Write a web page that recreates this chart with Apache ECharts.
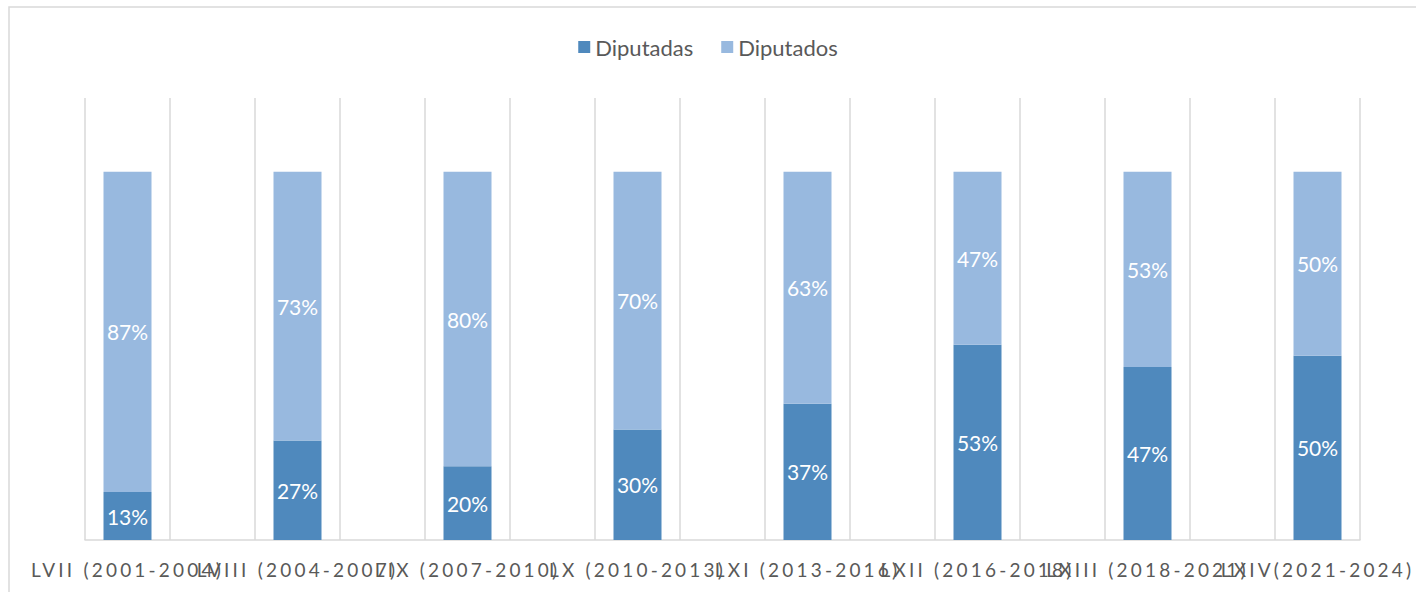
<!DOCTYPE html>
<html>
<head>
<meta charset="utf-8">
<style>
  html, body { margin: 0; padding: 0; background: #fff; }
  #chart { width: 1416px; height: 592px; }
  /* Excel-style expanded spacing on the category labels */
  #chart text[fill="#595958"] { letter-spacing: 3.2px; }
</style>
<script src="https://cdn.jsdelivr.net/npm/echarts@6/dist/echarts.min.js"></script>
</head>
<body>
<div id="chart"></div>
<script>
const terms = [
  'LVII (2001-2004)', 'LVIII (2004-2007)', 'LIX (2007-2010)', 'LX (2010-2013)',
  'LXI (2013-2016)', 'LXII (2016-2018)', 'LXIII (2018-2021)', 'LXIV(2021-2024)'
]
const diputadas = [13, 27, 20, 30, 37, 53, 47, 50]
const diputados = [87, 73, 80, 70, 63, 47, 53, 50]

// Excel sheet leaves an empty column between every legislature
function spread(arr, blank) {
  const out = []
  arr.forEach((v, i) => {
    out.push(v)
    if (i < arr.length - 1) out.push(blank)
  })
  return out
}

const categories = spread(terms, '')
const chart = echarts.init(document.getElementById('chart'), null, { renderer: 'svg' })

const labelFont = 'Lato, "Open Sans", sans-serif'

chart.setOption({
  animation: false,
  graphic: [{
    type: 'rect',
    silent: true,
    shape: { x: 9, y: 7, width: 1420, height: 600 },
    style: { fill: 'none', stroke: '#d9d9d9', lineWidth: 1.5 }
  }],
  legend: {
    top: 31,
    left: 'center',
    itemWidth: 12,
    itemHeight: 12,
    itemGap: 28,
    icon: 'rect',
    textStyle: { color: '#595959', fontSize: 22, fontFamily: labelFont },
    data: ['Diputadas', 'Diputados']
  },
  grid: { left: 85, right: 56, top: 98, bottom: 52, containLabel: false },
  xAxis: {
    type: 'category',
    data: categories,
    axisLine: { lineStyle: { color: '#d9d9d9', width: 1.5 } },
    axisTick: { show: false },
    splitLine: { show: true, interval: 0, lineStyle: { color: '#d9d9d9', width: 1.5 } },
    axisLabel: {
      interval: 0,
      color: '#595958',
      fontSize: 19,
      fontFamily: labelFont,
      margin: 20
    }
  },
  yAxis: {
    type: 'value',
    min: 0,
    max: 120,
    show: false,
    splitLine: { show: false }
  },
  series: [
    {
      name: 'Diputadas',
      type: 'bar',
      stack: 'total',
      barWidth: 48,
      data: spread(diputadas, '-'),
      itemStyle: { color: '#4f89bd' },
      label: {
        show: true,
        position: 'inside',
        formatter: '{c}%',
        color: '#fff',
        fontSize: 21,
        fontFamily: labelFont
      }
    },
    {
      name: 'Diputados',
      type: 'bar',
      stack: 'total',
      barWidth: 48,
      data: spread(diputados, '-'),
      itemStyle: { color: '#98b9df' },
      label: {
        show: true,
        position: 'inside',
        formatter: '{c}%',
        color: '#fff',
        fontSize: 21,
        fontFamily: labelFont
      }
    }
  ]
})
</script>
</body>
</html>
